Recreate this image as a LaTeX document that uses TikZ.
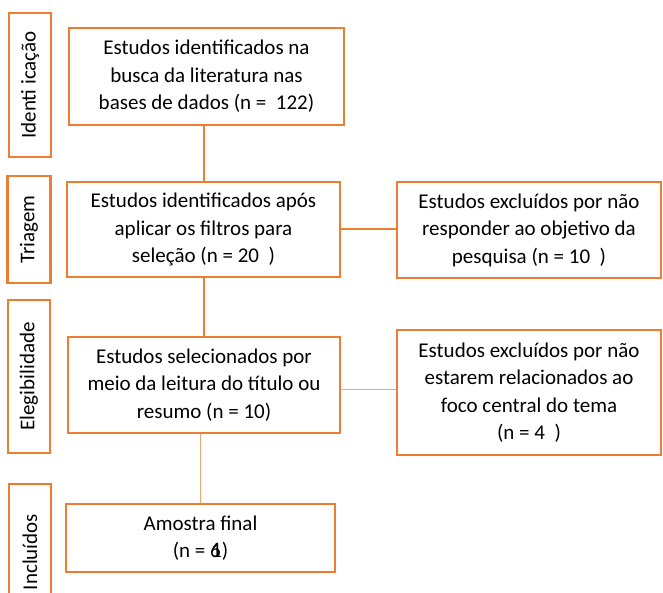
\documentclass[tikz,border=0pt]{standalone}
\usepackage{fontspec}
\setmainfont{Carlito}
\usepackage{xcolor}
\definecolor{laranja}{HTML}{ED7D31}
\definecolor{laranjaclaro}{HTML}{F4A46E}

\begin{document}
\begin{tikzpicture}[x=1pt, y=1pt,
        caixa/.style={draw=laranja, line width=2.2pt, align=center, inner sep=0pt,
            font=\fontsize{21}{27.5}\selectfont},
        fase/.style={draw=laranja, line width=2.2pt, inner sep=0pt, rotate=90,
            font=\fontsize{21}{24}\selectfont},
        ligacao/.style={draw=laranja, line width=2pt},
        ligacaofina/.style={draw=laranjaclaro, line width=1pt}]
            \useasboundingbox (0, 0) rectangle (663, 593);
            \clip (0, 0) rectangle (663, 593);

            % fases
            \node[fase, minimum width=144pt, minimum height=42pt] (ident) at (30, 508) {Identi icação};
            \node[fase, minimum width=107pt, minimum height=43pt] (triag) at (29, 363.5) {Triagem};
            \node[fase, minimum width=153pt, minimum height=42pt] (eleg) at (29, 216.5) {Elegibilidade};
            \node[fase, minimum width=136pt, minimum height=42pt] (incl) at (30, 41) {Incluídos};

            % caixas principais
            \node[caixa, minimum width=275pt, minimum height=97pt] (busca) at (206.5, 516.5)
                {Estudos identificados na\\busca da literatura nas\\bases de dados (n = \ 122)};
            \node[caixa, minimum width=273pt, minimum height=95pt] (filtros) at (203.5, 363.5)
                {Estudos identificados após\\aplicar os filtros para\\seleção (n = 20\ \ )};
            \node[caixa, minimum width=272pt, minimum height=96pt] (leitura) at (204, 208)
                {Estudos selecionados por\\meio da leitura do título ou\\resumo (n = 10)};
            \node[caixa, minimum width=269pt, minimum height=68pt] (amostra) at (200.5, 55)
                {Amostra final\\(n = \makebox[0pt][l]{6}\hspace{1pt}1)};

            % excluidos
            \node[caixa, minimum width=264pt, minimum height=96pt] (excl1) at (529, 363)
                {Estudos excluídos por não\\responder ao objetivo da\\pesquisa (n = 10\ \ )};
            \node[caixa, minimum width=264pt, minimum height=125pt] (excl2) at (529, 200.5)
                {Estudos excluídos por não\\estarem relacionados ao\\foco central do tema\\(n = 4\ \ )};

            \draw[ligacao] (filtros.north) -- (filtros.north |- busca.south);
            \draw[ligacao] (filtros.east) -- (filtros.east -| excl1.west);
            \draw[ligacao] (leitura.north) -- (leitura.north |- filtros.south);
            \draw[ligacaofina] ([yshift=-5pt]leitura.east) -- ([yshift=-5pt]leitura.east -| excl2.west);
            \draw[ligacaofina] (amostra.north) -- (amostra.north |- leitura.south);
        \end{tikzpicture}
\end{document}
